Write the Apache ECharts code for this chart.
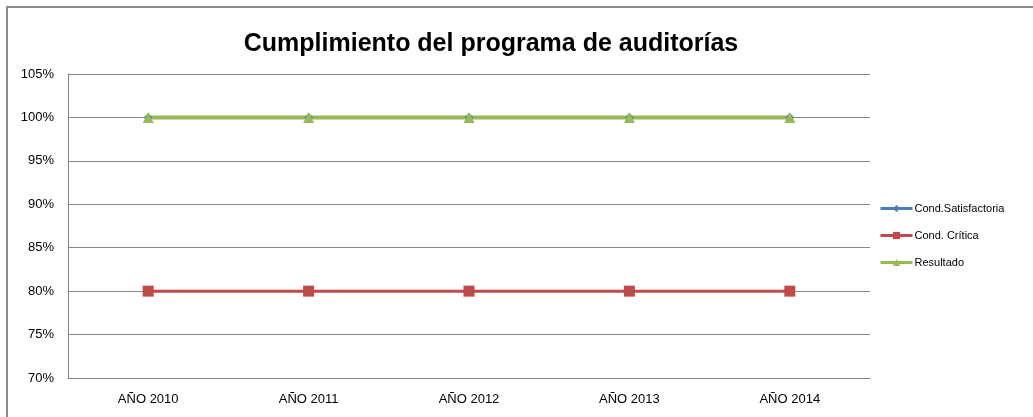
<!DOCTYPE html>
<html>
<head>
<meta charset="utf-8">
<script src="https://cdn.jsdelivr.net/npm/echarts@6/dist/echarts.min.js"></script>
<style>
    html, body {
        margin: 0;
        padding: 0;
        background: #fff;
    }
    .frame {
        position: absolute;
        left: 6px;
        top: 6px;
        width: 1027px;
        height: 411px;
        border-top: 2px solid #8c8c8c;
        border-left: 2px solid #8c8c8c;
    }
    #chart {
        position: absolute;
        left: 0;
        top: 0;
        width: 1033px;
        height: 417px;
    }
</style>
</head>
<body>
<div class="frame"></div>
<div id="chart"></div>
<script>
// datos del gráfico
const years = ["AÑO 2010", "AÑO 2011", "AÑO 2012", "AÑO 2013", "AÑO 2014"];
const satisfactoria = [100, 100, 100, 100, 100];
const critica = [80, 80, 80, 80, 80];
const resultado = [100, 100, 100, 100, 100];

const font = "Liberation Sans, Arial, sans-serif";

const chart = echarts.init(document.getElementById("chart"), null, { renderer: "canvas" });

chart.setOption({
    animation: false,
    backgroundColor: "transparent",
    title: {
        text: "Cumplimiento del programa de auditorías",
        left: 486,
        top: 27,
        textAlign: "center",
        textStyle: {
            fontFamily: font,
            fontSize: 25,
            fontWeight: "bold",
            color: "#000",
        },
    },
    grid: {
        left: 68,
        right: 163,
        top: 74,
        bottom: 39,
    },
    legend: {
        orient: "vertical",
        left: 874,
        top: 198,
        itemGap: 16,
        itemWidth: 32,
        itemHeight: 9,
        lineStyle: { width: 3 },
        textStyle: {
            fontFamily: font,
            fontSize: 11,
            color: "#000",
            padding: [0, 0, 0, -3],
        },
        data: ["Cond.Satisfactoria", "Cond. Crítica", "Resultado"],
    },
    xAxis: {
        type: "category",
        data: years,
        boundaryGap: true,
        axisLine: { lineStyle: { color: "#868686", width: 1 } },
        axisTick: { show: false },
        axisLabel: {
            fontFamily: font,
            fontSize: 13,
            color: "#000",
            margin: 15,
        },
    },
    yAxis: {
        type: "value",
        min: 70,
        max: 105,
        interval: 5,
        axisLine: { show: true, lineStyle: { color: "#868686", width: 1 } },
        axisTick: { show: false },
        splitLine: { lineStyle: { color: "#868686", width: 1 } },
        axisLabel: {
            fontFamily: font,
            fontSize: 13,
            color: "#000",
            margin: 14,
            formatter: "{value}%",
        },
    },
    series: [
        {
            name: "Cond.Satisfactoria",
            type: "line",
            data: satisfactoria,
            symbol: "diamond",
            symbolSize: 9,
            color: "#4a7ebb",
            lineStyle: { width: 3 },
            itemStyle: { color: "#4a7ebb" },
        },
        {
            name: "Cond. Crítica",
            type: "line",
            data: critica,
            symbol: "rect",
            symbolSize: 11,
            color: "#be4b48",
            lineStyle: { width: 3 },
            itemStyle: { color: "#be4b48" },
        },
        {
            name: "Resultado",
            type: "line",
            data: resultado,
            symbol: "triangle",
            symbolSize: 11,
            color: "#98b954",
            lineStyle: { width: 4 },
            itemStyle: { color: "#98b954" },
        },
    ],
});
</script>
</body>
</html>
